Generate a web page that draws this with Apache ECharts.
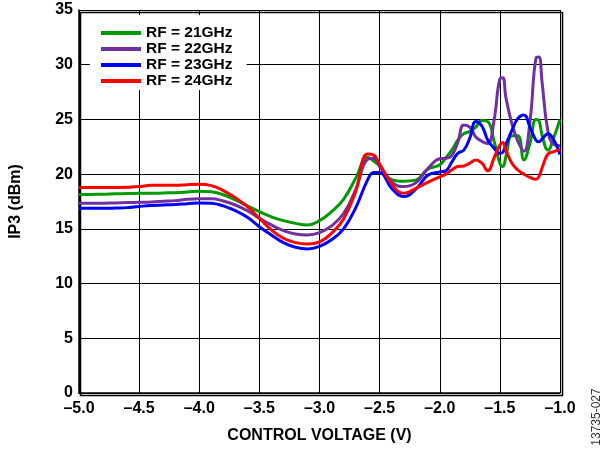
<!DOCTYPE html>
<html><head><meta charset="utf-8">
<script src="https://cdn.jsdelivr.net/npm/echarts@6/dist/echarts.min.js"></script>
<style>html,body{margin:0;padding:0;background:#fff}#c{width:603px;height:449px}</style>
</head><body><div id="c"></div>
<script>
const voltage = [-5.0,-4.9,-4.8,-4.7,-4.6,-4.5,-4.4,-4.3,-4.2,-4.1,-4.0,-3.9,-3.8,-3.7,-3.6,-3.5,-3.4,-3.3,-3.2,-3.1,-3.0,-2.9,-2.8,-2.7,-2.6,-2.55,-2.5,-2.4,-2.3,-2.2,-2.1,-2.0,-1.95,-1.9,-1.85,-1.8,-1.75,-1.7,-1.65,-1.6,-1.55,-1.5,-1.475,-1.45,-1.4,-1.35,-1.3,-1.25,-1.2,-1.175,-1.15,-1.1,-1.05,-1.0];
const rf21 = [18.13,18.15,18.16,18.2,18.22,18.25,18.25,18.28,18.31,18.37,18.44,18.4,18.12,17.64,17.1,16.57,16.1,15.75,15.5,15.36,15.75,16.57,17.7,19.6,21.55,21.2,20.75,19.5,19.35,19.45,20.45,20.85,21.5,22.2,23.1,23.7,23.9,24.3,24.9,24.8,23.1,21.0,20.7,21.6,23.5,23.5,21.3,22.8,25.0,24.9,23.6,22.2,23.4,25.0];
const rf22 = [17.34,17.34,17.34,17.37,17.4,17.43,17.46,17.52,17.58,17.7,17.75,17.75,17.55,17.18,16.66,15.97,15.36,14.84,14.53,14.44,14.65,15.27,16.4,18.56,21.36,21.45,20.7,19.3,18.86,19.2,20.5,21.4,21.45,21.7,22.9,24.5,24.3,23.4,23.0,22.8,24.8,28.7,28.8,27.0,24.6,23.0,22.1,24.8,30.6,30.7,28.5,23.9,22.7,22.6];
const rf23 = [16.88,16.88,16.88,16.9,16.94,17.05,17.14,17.18,17.22,17.3,17.37,17.34,17.1,16.66,16.06,15.2,14.44,13.74,13.32,13.16,13.4,14.0,15.0,16.9,19.47,20.15,20.15,18.7,17.95,18.6,19.9,20.2,20.3,21.1,21.9,22.2,23.3,24.8,24.4,23.1,22.4,21.9,22.0,22.7,24.0,25.1,25.4,24.3,23.1,22.95,23.2,23.7,23.1,21.8];
const rf24 = [18.77,18.77,18.77,18.78,18.8,18.86,18.98,18.98,18.98,19.04,19.07,18.95,18.5,17.85,17.03,15.97,14.9,14.14,13.74,13.62,13.8,14.6,15.9,18.4,21.85,21.75,20.93,19.1,18.25,18.7,19.25,19.75,20.0,20.38,20.7,20.75,21.0,21.3,21.0,20.3,21.45,22.67,22.9,22.2,21.0,20.38,20.0,19.7,19.53,19.8,20.54,21.85,22.06,22.27];
const seriesNames = ['RF = 21GHz','RF = 22GHz','RF = 23GHz','RF = 24GHz'];
const seriesColors = ['#009a00','#7030a0','#0000ff','#ff0000'];
const seriesValues = [rf21, rf22, rf23, rf24];
const xAxisTitle = 'CONTROL VOLTAGE (V)';
const yAxisTitle = 'IP3 (dBm)';
const sideNote = '13735-027';

const FONT = '"Liberation Sans", Arial, sans-serif';
const chart = echarts.init(document.getElementById('c'), null, {renderer: 'canvas'});
chart.setOption({
  animation: false,
  backgroundColor: '#fff',
  grid: {left: 78, right: 43, top: 10, bottom: 56, show: false},
  legend: {
    orient: 'vertical', left: 90, top: 15,
    backgroundColor: '#fff',
    padding: [10, 14, 1, 11],
    itemGap: 0, itemWidth: 40, itemHeight: 4, icon: 'rect',
    textStyle: {fontFamily: FONT, fontWeight: 'bold', fontSize: 15.5, color: '#000', lineHeight: 16},
    data: seriesNames
  },
  xAxis: {
    type: 'value', min: -5, max: -1, interval: 0.5,
    name: xAxisTitle, nameLocation: 'middle', nameGap: 35,
    nameTextStyle: {fontFamily: FONT, fontWeight: 'bold', fontSize: 16, color: '#000'},
    axisLine: {show: true, lineStyle: {color: '#000', width: 1.5}},
    axisTick: {show: false},
    axisLabel: {fontFamily: FONT, fontWeight: 'bold', fontSize: 16, color: '#000', margin: 8,
      formatter: v => v.toFixed(1).replace('-', '\u2013')},
    splitLine: {show: true, lineStyle: {color: '#000', width: 1}}
  },
  yAxis: {
    type: 'value', min: 0, max: 35, interval: 5,
    name: yAxisTitle, nameLocation: 'middle', nameGap: 55, nameRotate: 90,
    nameTextStyle: {fontFamily: FONT, fontWeight: 'bold', fontSize: 16, color: '#000'},
    axisLine: {show: true, lineStyle: {color: '#000', width: 1.5}},
    axisTick: {show: false},
    axisLabel: {fontFamily: FONT, fontWeight: 'bold', fontSize: 16, color: '#000', margin: 6},
    splitLine: {show: true, lineStyle: {color: '#000', width: 1}}
  },
  graphic: [
    {type: 'rect', left: 78, top: 10, shape: {width: 482, height: 383}, style: {fill: 'none', stroke: '#000', lineWidth: 1.5}, silent: true, z: 1},
    {type: 'text', x: 597, y: 417, rotation: Math.PI / 2,
      style: {text: sideNote, fontFamily: FONT, fontSize: 12, fill: '#333', align: 'center', verticalAlign: 'middle'}}
  ],
  series: seriesNames.map((n, i) => ({
    name: n, type: 'line', smooth: 0.45, showSymbol: false, symbol: 'none',
    data: voltage.map((v, k) => [v, seriesValues[i][k]]),
    lineStyle: {color: seriesColors[i], width: 3},
    itemStyle: {color: seriesColors[i]},
    z: 2 + i
  }))
});
</script></body></html>
